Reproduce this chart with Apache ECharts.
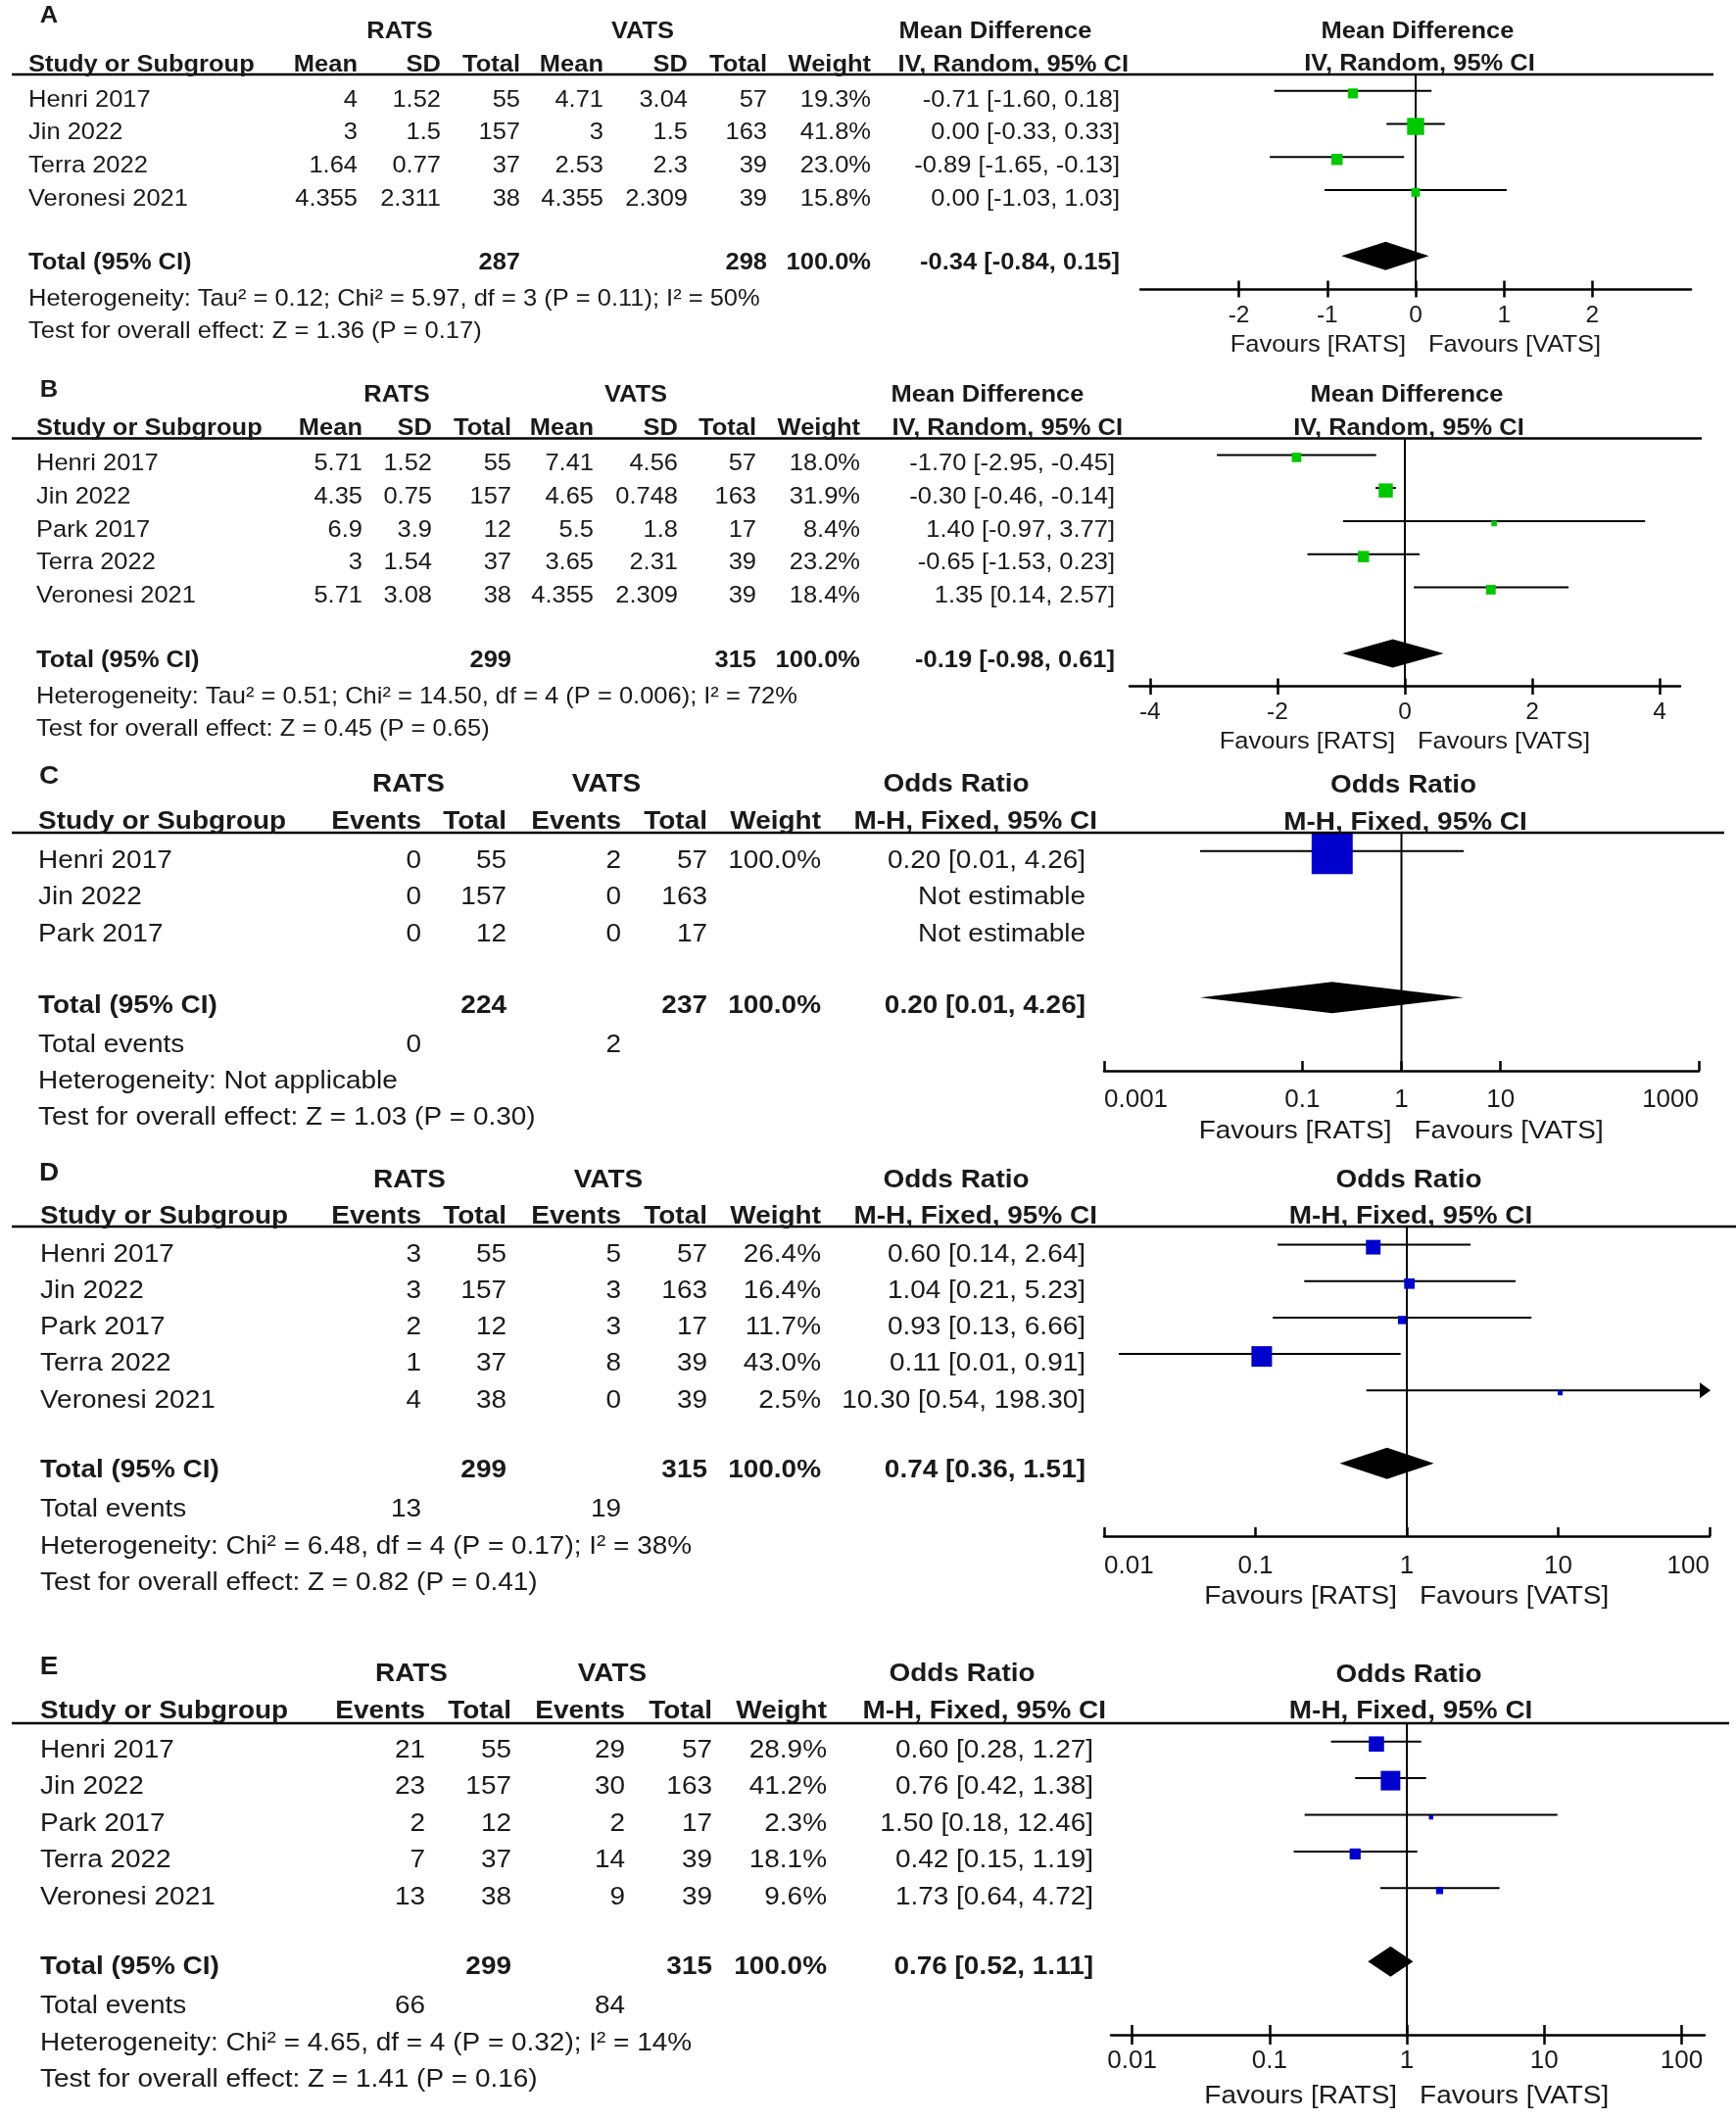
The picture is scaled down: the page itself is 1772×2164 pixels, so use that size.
<!DOCTYPE html>
<html><head><meta charset="utf-8">
<script src="https://cdn.jsdelivr.net/npm/echarts@6/dist/echarts.min.js"></script>
<style>html,body{margin:0;padding:0;background:#fff}#c{width:1772px;height:2164px}</style>
</head><body><div id="c"></div>
<script>
// ---------------- DATA ----------------
// Panel A (mean difference)
const studiesA = ['Henri 2017', 'Jin 2022', 'Terra 2022', 'Veronesi 2021'];
const ratsMeanA = [4, 3, 1.64, 4.355];
const ratsSdA = [1.52, 1.5, 0.77, 2.311];
const ratsTotalA = [55, 157, 37, 38];
const vatsMeanA = [4.71, 3, 2.53, 4.355];
const vatsSdA = [3.04, 1.5, 2.3, 2.309];
const vatsTotalA = [57, 163, 39, 39];
const weightA = [19.3, 41.8, 23.0, 15.8];
const mdA = [-0.71, 0.00, -0.89, 0.00];
const mdLowA = [-1.60, -0.33, -1.65, -1.03];
const mdHighA = [0.18, 0.33, -0.13, 1.03];
const totalsA = [287, 298];
const overallA = [-0.34, -0.84, 0.15];
const hetA = 'Heterogeneity: Tau² = 0.12; Chi² = 5.97, df = 3 (P = 0.11); I² = 50%';
const testA = 'Test for overall effect: Z = 1.36 (P = 0.17)';

// Panel B (mean difference)
const studiesB = ['Henri 2017', 'Jin 2022', 'Park 2017', 'Terra 2022', 'Veronesi 2021'];
const ratsMeanB = [5.71, 4.35, 6.9, 3, 5.71];
const ratsSdB = [1.52, 0.75, 3.9, 1.54, 3.08];
const ratsTotalB = [55, 157, 12, 37, 38];
const vatsMeanB = [7.41, 4.65, 5.5, 3.65, 4.355];
const vatsSdB = [4.56, 0.748, 1.8, 2.31, 2.309];
const vatsTotalB = [57, 163, 17, 39, 39];
const weightB = [18.0, 31.9, 8.4, 23.2, 18.4];
const mdB = [-1.70, -0.30, 1.40, -0.65, 1.35];
const mdLowB = [-2.95, -0.46, -0.97, -1.53, 0.14];
const mdHighB = [-0.45, -0.14, 3.77, 0.23, 2.57];
const totalsB = [299, 315];
const overallB = [-0.19, -0.98, 0.61];
const hetB = 'Heterogeneity: Tau² = 0.51; Chi² = 14.50, df = 4 (P = 0.006); I² = 72%';
const testB = 'Test for overall effect: Z = 0.45 (P = 0.65)';

// Panel C (odds ratio)
const studiesC = ['Henri 2017', 'Jin 2022', 'Park 2017'];
const ratsEventsC = [0, 0, 0];
const ratsTotalC = [55, 157, 12];
const vatsEventsC = [2, 0, 0];
const vatsTotalC = [57, 163, 17];
const weightC = [100.0, null, null];
const orC = [0.20, null, null];
const orLowC = [0.0093, null, null];
const orHighC = [4.26, null, null];
const totalsC = [224, 237];
const totalEventsC = [0, 2];
const overallC = [0.20, 0.0093, 4.26];
const hetC = 'Heterogeneity: Not applicable';
const testC = 'Test for overall effect: Z = 1.03 (P = 0.30)';

// Panel D (odds ratio)
const studiesD = ['Henri 2017', 'Jin 2022', 'Park 2017', 'Terra 2022', 'Veronesi 2021'];
const ratsEventsD = [3, 3, 2, 1, 4];
const ratsTotalD = [55, 157, 12, 37, 38];
const vatsEventsD = [5, 3, 3, 8, 0];
const vatsTotalD = [57, 163, 17, 39, 39];
const weightD = [26.4, 16.4, 11.7, 43.0, 2.5];
const orD = [0.60, 1.04, 0.93, 0.11, 10.30];
const orLowD = [0.14, 0.21, 0.13, 0.0125, 0.54];
const orHighD = [2.64, 5.23, 6.66, 0.91, 198.30];
const totalsD = [299, 315];
const totalEventsD = [13, 19];
const overallD = [0.74, 0.36, 1.51];
const hetD = 'Heterogeneity: Chi² = 6.48, df = 4 (P = 0.17); I² = 38%';
const testD = 'Test for overall effect: Z = 0.82 (P = 0.41)';

// Panel E (odds ratio)
const studiesE = ['Henri 2017', 'Jin 2022', 'Park 2017', 'Terra 2022', 'Veronesi 2021'];
const ratsEventsE = [21, 23, 2, 7, 13];
const ratsTotalE = [55, 157, 12, 37, 38];
const vatsEventsE = [29, 30, 2, 14, 9];
const vatsTotalE = [57, 163, 17, 39, 39];
const weightE = [28.9, 41.2, 2.3, 18.1, 9.6];
const orE = [0.60, 0.76, 1.50, 0.42, 1.73];
const orLowE = [0.28, 0.42, 0.18, 0.15, 0.64];
const orHighE = [1.27, 1.38, 12.46, 1.19, 4.72];
const totalsE = [299, 315];
const totalEventsE = [66, 84];
const overallE = [0.76, 0.52, 1.11];
const hetE = 'Heterogeneity: Chi² = 4.65, df = 4 (P = 0.32); I² = 14%';
const testE = 'Test for overall effect: Z = 1.41 (P = 0.16)';

const tickValuesMD_A = [-2, -1, 0, 1, 2];
const tickValuesMD_B = [-4, -2, 0, 2, 4];
const tickValuesOR_C = [0.001, 0.1, 1, 10, 1000];
const tickValuesOR_D = [0.01, 0.1, 1, 10, 100];
const tickValuesOR_E = [0.01, 0.1, 1, 10, 100];

// ---------------- LAYOUT / STYLE ----------------
const FONTFAM = '"Liberation Sans", Arial, sans-serif';
const TXT = '#1a1a1a';
const GREEN = '#00c800';
const BLUE = '#0000cc';

function fmtCI(e, l, h) { return e.toFixed(2) + ' [' + l.toFixed(2) + ', ' + h.toFixed(2) + ']'; }
function pct(w) { return w == null ? '' : w.toFixed(1) + '%'; }

const panels = [
  { letter: 'A', kind: 'cont', studies: studiesA, c: [ratsMeanA, ratsSdA, ratsTotalA, vatsMeanA, vatsSdA, vatsTotalA],
    w: weightA, est: mdA, lo: mdLowA, hi: mdHighA, tot: totalsA, ov: overallA, het: hetA, test: testA, ticks: tickValuesMD_A,
    head1: 'Mean Difference', head2: 'IV, Random, 95% CI', color: GREEN,
    L: { letterY: 16, lineY: 76, lineX1: 1749, axisY: 295, x0: 1164, x1: 1726, xmin: -3.115, xmax: 3.115, ymax: 6,
      log: false, cross: true, edgeAlign: false, tickLen: 8.5, margin: 15, fs: 24.5, sx: 1.04, afs: 24.5, h1Y: 32, h2Y: 66, rowOff: 9, totOff: 7, favY: 352,
      boxK: 1.28, minBox: 5, dH: 14.5, colX: [29, 365, 450, 531, 616, 702, 783, 889, 1143], ciHeadX: 1152,
      h1X: [408, 656, 1016], plotH1Y: 32, plotH2Y: 65, hetGap: 37, testGap: 33 } },
  { letter: 'B', kind: 'cont', studies: studiesB, c: [ratsMeanB, ratsSdB, ratsTotalB, vatsMeanB, vatsSdB, vatsTotalB],
    w: weightB, est: mdB, lo: mdLowB, hi: mdHighB, tot: totalsB, ov: overallB, het: hetB, test: testB, ticks: tickValuesMD_B,
    head1: 'Mean Difference', head2: 'IV, Random, 95% CI', color: GREEN,
    L: { letterY: 398, lineY: 447.5, lineX1: 1737, axisY: 700.7, x0: 1153, x1: 1715, xmin: -4.32, xmax: 4.32, ymax: 7,
      log: false, cross: true, edgeAlign: false, tickLen: 8.3, margin: 14, fs: 24.5, sx: 1.04, afs: 24.5, h1Y: 403, h2Y: 437, rowOff: 9, totOff: 7, favY: 757,
      boxK: 1.28, minBox: 5, dH: 14.5, colX: [37, 370, 441, 522, 606, 692, 772, 878, 1138], ciHeadX: 1146,
      h1X: [405, 649, 1008], plotH1Y: 403, plotH2Y: 437, hetGap: 37, testGap: 33 } },
  { letter: 'C', kind: 'dich', studies: studiesC, c: [ratsEventsC, ratsTotalC, vatsEventsC, vatsTotalC],
    w: weightC, est: orC, lo: orLowC, hi: orHighC, tot: totalsC, te: totalEventsC, ov: overallC, het: hetC, test: testC, ticks: tickValuesOR_C,
    head1: 'Odds Ratio', head2: 'M-H, Fixed, 95% CI', color: BLUE,
    L: { letterY: 793, lineY: 850, lineX1: 1760, axisY: 1093, x0: 1127, x1: 1734, xmin: -3, xmax: 3, ymax: 6,
      log: true, cross: false, edgeAlign: true, tickLen: 10, margin: 16.5, fs: 26.5, sx: 1.055, afs: 26, h1Y: 801, h2Y: 839, rowOff: 10, totOff: 8, favY: 1155,
      boxK: 1.67, minBox: 5, dH: 16, colX: [39, 430, 517, 634, 722, 838, 1108], ciHeadX: 1120,
      h1X: [417, 619, 976], plotH1Y: 802, plotH2Y: 840, teGap: 40, hetGap: 37, testGap: 37 } },
  { letter: 'D', kind: 'dich', studies: studiesD, c: [ratsEventsD, ratsTotalD, vatsEventsD, vatsTotalD],
    w: weightD, est: orD, lo: orLowD, hi: orHighD, tot: totalsD, te: totalEventsD, ov: overallD, het: hetD, test: testD, ticks: tickValuesOR_D,
    head1: 'Odds Ratio', head2: 'M-H, Fixed, 95% CI', color: BLUE,
    L: { letterY: 1198, lineY: 1252, lineX1: 1772, axisY: 1568, x0: 1127, x1: 1745, xmin: -2, xmax: 2, ymax: 8,
      log: true, cross: false, edgeAlign: true, tickLen: 9, margin: 17.5, fs: 26.5, sx: 1.055, afs: 26, h1Y: 1205, h2Y: 1242, rowOff: 10, totOff: 7, favY: 1630,
      boxK: 1.51, minBox: 5, dH: 16, colX: [41, 430, 517, 634, 722, 838, 1108], ciHeadX: 1120,
      h1X: [418, 621, 976], plotH1Y: 1205, plotH2Y: 1242, teGap: 40, hetGap: 38, testGap: 37 } },
  { letter: 'E', kind: 'dich', studies: studiesE, c: [ratsEventsE, ratsTotalE, vatsEventsE, vatsTotalE],
    w: weightE, est: orE, lo: orLowE, hi: orHighE, tot: totalsE, te: totalEventsE, ov: overallE, het: hetE, test: testE, ticks: tickValuesOR_E,
    head1: 'Odds Ratio', head2: 'M-H, Fixed, 95% CI', color: BLUE,
    L: { letterY: 1702, lineY: 1759, lineX1: 1765, axisY: 2077, x0: 1134, x1: 1740, xmin: Math.log10(0.00701), xmax: Math.log10(147), ymax: 8,
      log: true, cross: true, edgeAlign: false, tickLen: 10, margin: 14, fs: 26.5, sx: 1.055, afs: 26, h1Y: 1709, h2Y: 1747, rowOff: 9, totOff: 6, favY: 2140,
      boxK: 1.48, minBox: 4.5, dH: 15.5, colX: [41, 434, 522, 638, 727, 844, 1116], ciHeadX: 1129,
      h1X: [420, 625, 982], plotH1Y: 1710, plotH2Y: 1747, teGap: 40, hetGap: 38, testGap: 37 } }
];

const chart = echarts.init(document.getElementById('c'), null, { renderer: 'canvas', width: 1772, height: 2164 });

const grids = [], xAxes = [], yAxes = [], series = [];
const mainAxisIdx = [];

panels.forEach((p, i) => {
  const L = p.L;
  const tx = v => L.log ? Math.log10(v) : v;
  grids.push({ left: L.x0, width: L.x1 - L.x0, top: L.lineY, height: L.axisY - L.lineY, outerBoundsMode: 'none', containLabel: false });
  const tickVals = p.ticks.map(tx);
  const lblFmt = v => {
    if (!L.log) return String(Math.round(v));
    return String(Number(Math.pow(10, v).toPrecision(1)));
  };
  const base = {
    type: 'value', gridIndex: i, min: L.xmin, max: L.xmax, position: 'bottom',
    splitLine: { show: false }, axisPointer: { show: false }
  };
  mainAxisIdx.push(xAxes.length);
  const lbl = { show: true, customValues: tickVals, formatter: lblFmt, margin: L.margin, fontSize: L.afs, fontFamily: FONTFAM, color: TXT };
  if (L.edgeAlign) { lbl.alignMinLabel = 'left'; lbl.alignMaxLabel = 'right'; }
  xAxes.push(Object.assign({}, base, {
    axisLine: { show: true, onZero: false, lineStyle: { color: '#000', width: 2.5 } },
    axisTick: { show: true, inside: !L.cross, length: L.tickLen, customValues: tickVals, lineStyle: { color: '#000', width: 2.5 } },
    axisLabel: lbl
  }));
  if (L.cross) {
    xAxes.push(Object.assign({}, base, {
      axisLine: { show: false, onZero: false },
      axisTick: { show: true, inside: true, length: L.tickLen, customValues: tickVals, lineStyle: { color: '#000', width: 2.5 } },
      axisLabel: { show: false }
    }));
  }
  yAxes.push({ type: 'value', gridIndex: i, min: -0.5, max: L.ymax, inverse: true, show: false,
    axisLine: { show: false }, axisTick: { show: false }, axisLabel: { show: false }, splitLine: { show: false } });

  const xi = mainAxisIdx[i];
  // null line (0 for MD, 1 for OR)
  const nullV = tx(L.log ? 1 : 0);
  series.push({ type: 'line', xAxisIndex: xi, yAxisIndex: i, data: [[nullV, -0.5], [nullV, L.ymax]],
    symbol: 'none', silent: true, z: 1, lineStyle: { color: '#000', width: 2 } });

  // study CI lines + weight boxes
  const ciData = [];
  p.studies.forEach((s, k) => {
    if (p.est[k] == null) return;
    ciData.push([tx(p.lo[k]), tx(p.hi[k]), k, tx(p.est[k]), p.w[k]]);
  });
  series.push({
    type: 'custom', xAxisIndex: xi, yAxisIndex: i, data: ciData, z: 3, silent: true,
    encode: { x: [0, 1, 3], y: 2 },
    renderItem: (params, api) => {
      const lo = api.value(0), hi = api.value(1), idx = api.value(2), est = api.value(3), w = api.value(4);
      const a = api.coord([Math.max(lo, L.xmin), idx]);
      const b = api.coord([Math.min(hi, L.xmax), idx]);
      const c = api.coord([est, idx]);
      const s = Math.max(L.minBox, L.boxK * Math.pow(w, 0.7));
      const ch = [
        { type: 'line', shape: { x1: a[0], y1: a[1], x2: b[0], y2: b[1] }, style: { stroke: '#000', lineWidth: 2 } },
        { type: 'rect', shape: { x: c[0] - s / 2, y: c[1] - s / 2 + 2.5, width: s, height: s }, style: { fill: p.color } }
      ];
      if (hi > L.xmax) {
        ch.push({ type: 'polygon', shape: { points: [[b[0] + 1, b[1]], [b[0] - 10, b[1] - 8], [b[0] - 10, b[1] + 8]] }, style: { fill: '#000' } });
      }
      return { type: 'group', children: ch };
    }
  });
  // overall diamond
  const n = p.studies.length;
  series.push({
    type: 'custom', xAxisIndex: xi, yAxisIndex: i, z: 3, silent: true,
    data: [[tx(p.ov[1]), tx(p.ov[2]), n + 1, tx(p.ov[0])]],
    encode: { x: [0, 1, 3], y: 2 },
    renderItem: (params, api) => {
      const idx = api.value(2);
      const a = api.coord([api.value(0), idx]);
      const b = api.coord([api.value(1), idx]);
      const c = api.coord([api.value(3), idx]);
      return { type: 'polygon', shape: { points: [[a[0], a[1]], [c[0], c[1] - L.dH], [b[0], b[1]], [c[0], c[1] + L.dH]] },
        style: { fill: '#000' } };
    }
  });
});

chart.setOption({
  animation: false,
  backgroundColor: '#fff',
  grid: grids, xAxis: xAxes, yAxis: yAxes, series: series
});

// ---------------- TEXT TABLES ----------------
const gfx = [];
let curSX = 1;
function T(text, x, y, size, align, bold) {
  const font = (bold ? 'bold ' : '') + size + 'px ' + FONTFAM;
  gfx.push({ type: 'text', x: x, y: y, scaleX: curSX, scaleY: 1, silent: true, z: 10,
    style: { text: text, fill: TXT, font: font, textAlign: align, align: align, textVerticalAlign: 'middle', verticalAlign: 'middle' } });
}
function HL(x1, x2, y, w) {
  gfx.push({ type: 'line', silent: true, z: 9, shape: { x1: x1, y1: y, x2: x2, y2: y }, style: { stroke: '#000', lineWidth: w } });
}

panels.forEach((p, i) => {
  const L = p.L, fs = L.fs;
  curSX = L.sx;
  const yPix = v => chart.convertToPixel({ yAxisIndex: i }, v);
  const nullPx = chart.convertToPixel({ xAxisIndex: mainAxisIdx[i] }, 0);
  const n = p.studies.length;
  const cx = L.colX;
  // panel letter
  T(p.letter, 50, L.letterY, fs, 'center', true);
  // header row 1
  T('RATS', L.h1X[0], L.h1Y, fs, 'center', true);
  T('VATS', L.h1X[1], L.h1Y, fs, 'center', true);
  T(p.head1, L.h1X[2], L.h1Y, fs, 'center', true);
  T(p.head1, nullPx + 2, L.plotH1Y, fs, 'center', true);
  // header row 2
  const h2 = p.kind === 'cont' ? ['Study or Subgroup', 'Mean', 'SD', 'Total', 'Mean', 'SD', 'Total', 'Weight']
                               : ['Study or Subgroup', 'Events', 'Total', 'Events', 'Total', 'Weight'];
  h2.forEach((t, k) => T(t, cx[k], L.h2Y, fs, k === 0 ? 'left' : 'right', true));
  T(p.head2, L.ciHeadX, L.h2Y, fs, 'right', true);
  T(p.head2, nullPx + 4, L.plotH2Y, fs, 'center', true);
  HL(12, L.lineX1, L.lineY, 2.6);
  // study rows
  const last = cx.length - 1;
  p.studies.forEach((s, k) => {
    const y = yPix(k) + L.rowOff;
    T(s, cx[0], y, fs, 'left', false);
    p.c.forEach((col, j) => T(String(col[k]), cx[j + 1], y, fs, 'right', false));
    T(pct(p.w[k]), cx[last - 1], y, fs, 'right', false);
    T(p.est[k] == null ? 'Not estimable' : fmtCI(p.est[k], p.lo[k], p.hi[k]), cx[last], y, fs, 'right', false);
  });
  // total row
  const ty = yPix(n + 1) + L.totOff;
  T('Total (95% CI)', cx[0], ty, fs, 'left', true);
  const totCols = p.kind === 'cont' ? [3, 6] : [2, 4];
  T(String(p.tot[0]), cx[totCols[0]], ty, fs, 'right', true);
  T(String(p.tot[1]), cx[totCols[1]], ty, fs, 'right', true);
  T('100.0%', cx[last - 1], ty, fs, 'right', true);
  T(fmtCI(p.ov[0], p.ov[1], p.ov[2]), cx[last], ty, fs, 'right', true);
  let y2 = ty;
  if (p.te) {
    y2 += L.teGap;
    T('Total events', cx[0], y2, fs, 'left', false);
    T(String(p.te[0]), cx[1], y2, fs, 'right', false);
    T(String(p.te[1]), cx[3], y2, fs, 'right', false);
  }
  y2 += L.hetGap;
  T(p.het, cx[0], y2, fs, 'left', false);
  y2 += L.testGap;
  T(p.test, cx[0], y2, fs, 'left', false);
  // favours labels
  T('Favours [RATS]', nullPx - 10, L.favY, fs, 'right', false);
  T('Favours [VATS]', nullPx + 13, L.favY, fs, 'left', false);
});

chart.setOption({ graphic: { elements: gfx } });
</script></body></html>
